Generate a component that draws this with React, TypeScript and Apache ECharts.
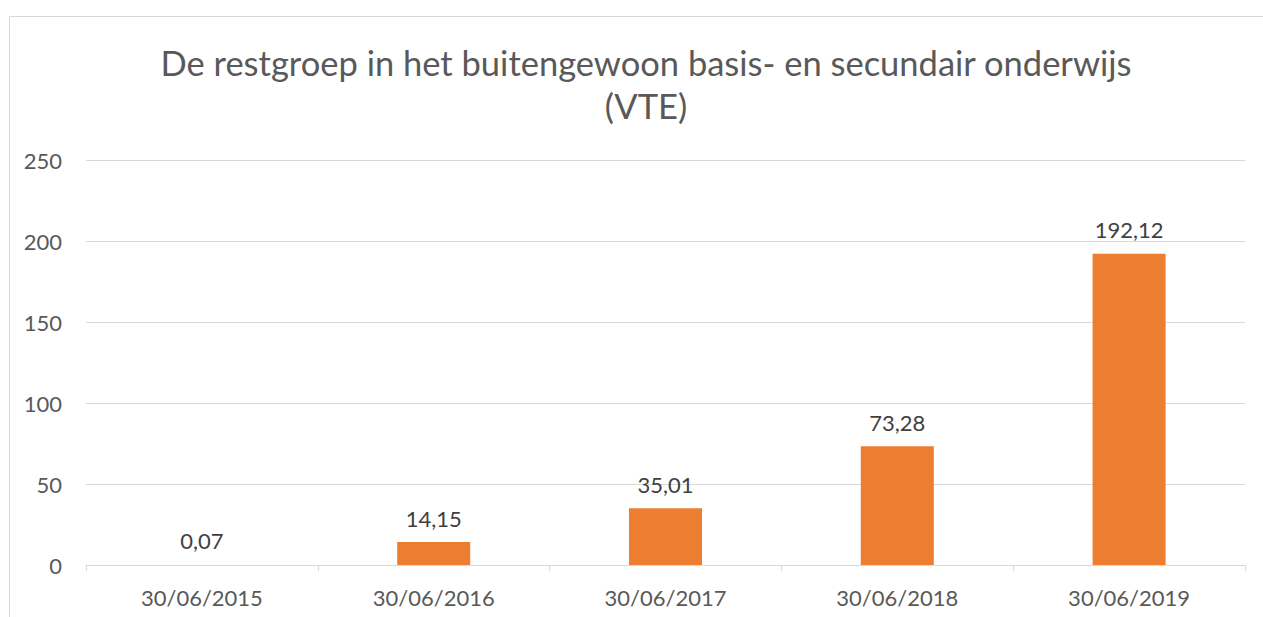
import React, { useEffect, useRef } from "react";
import * as echarts from "echarts";

const categories = ["30/06/2015", "30/06/2016", "30/06/2017", "30/06/2018", "30/06/2019"];
const values = [0.07, 14.15, 35.01, 73.28, 192.12];
const titleLines = ["De restgroep in het buitengewoon basis- en secundair onderwijs", "(VTE)"];

export default function App() {
  const ref = useRef<HTMLDivElement>(null);
  useEffect(() => {
    document.body.style.margin = "0";
    const chart = echarts.init(ref.current!, undefined, { renderer: "svg" });
    const font = "Lato, 'Open Sans', sans-serif";
    chart.setOption({
      animation: false,
      backgroundColor: "#ffffff",
      graphic: [
        {
          type: "rect",
          shape: { x: 9.5, y: 16.5, width: 1300, height: 700 },
          style: { fill: "none", stroke: "#d9d9d9", lineWidth: 1 },
          silent: true,
        },
      ],
      title: {
        text: titleLines.join("\n"),
        left: 641,
        textAlign: "center",
        top: 36,
        textStyle: {
          fontFamily: font,
          fontSize: 34.5,
          fontWeight: "normal",
          color: "#595959",
          lineHeight: 43,
        },
      },
      grid: { left: 86, right: 18, top: 160, bottom: 52, containLabel: false },
      xAxis: {
        type: "category",
        data: categories,
        axisLine: { lineStyle: { color: "#d9d9d9", width: 1 } },
        axisTick: { show: true, alignWithLabel: false, length: 6, lineStyle: { color: "#d9d9d9" } },
        axisLabel: { color: "#595959", fontSize: 22, fontFamily: font, margin: 21 },
      },
      yAxis: {
        type: "value",
        min: 0,
        max: 250,
        interval: 50,
        axisLine: { show: false },
        axisTick: { show: false },
        axisLabel: { color: "#595959", fontSize: 22, fontFamily: font, margin: 24 },
        splitLine: { lineStyle: { color: "#d9d9d9", width: 1 } },
      },
      series: [
        {
          type: "bar",
          data: values,
          barWidth: "31.5%",
          itemStyle: { color: "#ED7D31" },
          label: {
            show: true,
            position: "top",
            distance: 13,
            color: "#404040",
            fontSize: 22,
            fontFamily: font,
            formatter: (p: any) => Number(p.value).toFixed(2).replace(".", ","),
          },
        },
      ],
    });
    return () => chart.dispose();
  }, []);
  return <div ref={ref} style={{ position: "absolute", left: 0, top: 0, width: 1263, height: 617 }} />;
}
